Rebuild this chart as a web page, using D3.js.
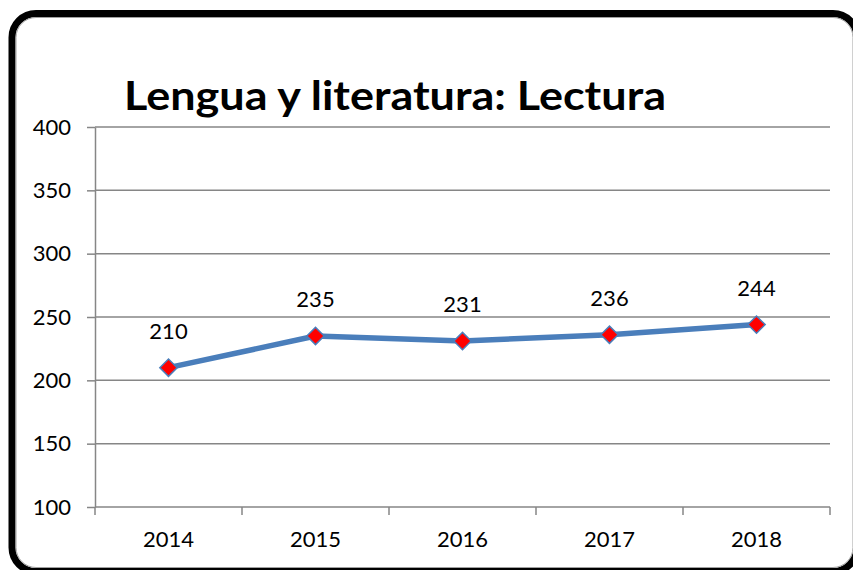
<!DOCTYPE html>
<html><head><meta charset="utf-8">
<script src="https://cdn.jsdelivr.net/npm/d3@7"></script>
<style>html,body{margin:0;padding:0;background:#fff;overflow:hidden}</style>
</head><body>
<script>
const title = "Lengua y literatura: Lectura";
const categories = ["2014","2015","2016","2017","2018"];
const values = [210,235,231,236,244];
const yTicks = [100,150,200,250,300,350,400];

const W = 853, H = 570;
const svg = d3.select("body").append("svg").attr("width",W).attr("height",H);
const font = "Lato, 'Open Sans', sans-serif";

// chart frame
svg.append("rect").attr("x",12).attr("y",13.5).attr("width",845).attr("height",558)
  .attr("rx",24).attr("fill","#fff").attr("stroke","#000").attr("stroke-width",7);
svg.append("rect").attr("x",16).attr("y",17.5).attr("width",837).attr("height",550)
  .attr("rx",20).attr("fill","none").attr("stroke","#a0a0a0").attr("stroke-width",1);

const m = {l:95, r:830, t:127, b:507};
const x = d3.scaleBand().domain(categories).range([m.l,m.r]).padding(0);
const y = d3.scaleLinear().domain([100,400]).range([m.b,m.t]);
const grey = "#868686";

// gridlines + y ticks
const yAxis = svg.append("g").attr("transform",`translate(${m.l},0)`)
  .call(d3.axisLeft(y).tickValues(yTicks).tickSize(8).tickPadding(16).tickSizeOuter(0));
yAxis.attr("font-size",null).attr("font-family",null);
yAxis.select(".domain").attr("stroke",grey).attr("stroke-width",1.5);
yAxis.selectAll(".tick line").attr("stroke",grey).attr("stroke-width",1.5);
yAxis.selectAll(".tick text").style("font-family",font).style("font-size","22px").attr("fill","#000");
svg.append("g").selectAll("line").data(yTicks).join("line")
  .attr("x1",m.l).attr("x2",m.r).attr("y1",d=>y(d)).attr("y2",d=>y(d))
  .attr("stroke",grey).attr("stroke-width",1.5);

// x axis
const xAxis = svg.append("g").attr("transform",`translate(0,${m.b})`)
  .call(d3.axisBottom(x).tickSize(0).tickPadding(24));
xAxis.attr("font-size",null).attr("font-family",null);
xAxis.select(".domain").remove();
xAxis.selectAll(".tick text").style("font-family",font).style("font-size","22px").attr("fill","#000");
const bounds = categories.map(c=>x(c)).concat([m.r]);
svg.append("g").selectAll("line").data(bounds).join("line")
  .attr("x1",d=>d).attr("x2",d=>d).attr("y1",m.b).attr("y2",m.b+8)
  .attr("stroke",grey).attr("stroke-width",1.5);

// line
const cx = c => x(c) + x.bandwidth()/2;
const pts = categories.map((c,i)=>[cx(c), y(values[i])]);
svg.append("path").attr("d",d3.line()(pts)).attr("fill","none")
  .attr("stroke","#4a7ebb").attr("stroke-width",5.5).attr("stroke-linejoin","round");

// markers
svg.append("g").selectAll("path").data(pts).join("path")
  .attr("d", d3.symbol().type(d3.symbolSquare).size(150)())
  .attr("transform",d=>`translate(${d[0]},${d[1]}) rotate(45)`)
  .attr("fill","#ff0000").attr("stroke","#4a7ebb").attr("stroke-width",1.5);

// data labels
svg.append("g").selectAll("text").data(values).join("text")
  .attr("x",(d,i)=>pts[i][0]).attr("y",(d,i)=>pts[i][1]-29)
  .attr("text-anchor","middle").style("font-family",font).style("font-size","22px")
  .text(d=>d);

// title
svg.append("text").attr("x",395).attr("y",110).attr("text-anchor","middle")
  .style("font-family",font).attr("font-weight","bold").style("font-size","40px")
  .attr("textLength",542).attr("lengthAdjust","spacingAndGlyphs")
  .text(title);
</script>
</body></html>
